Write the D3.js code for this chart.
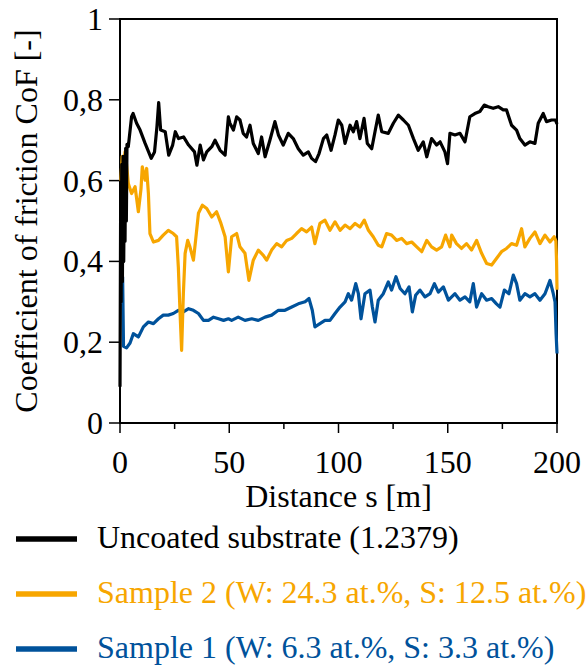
<!DOCTYPE html>
<html>
<head>
<meta charset="UTF-8">
<title>CoF vs distance</title>
<script src="https://cdn.jsdelivr.net/npm/d3@7"></script>
</head>
<body style="margin:0">
<div id="container"></div>
<script>
// distance [m], CoF [-]
const uncoated = [
  [0, 0.09], [0.3, 0.55], [0.5, 0.30], [0.8, 0.64], [1.1, 0.35], [1.4, 0.66], [1.7, 0.40],
  [2.0, 0.63], [2.3, 0.45], [2.6, 0.68], [2.9, 0.50], [3.2, 0.69], [3.8, 0.684],
  [5.3, 0.758], [6, 0.766], [7.6, 0.742], [9.2, 0.725], [11.5, 0.692], [14.3, 0.655],
  [15.8, 0.671], [16.9, 0.733], [17.7, 0.793], [18.6, 0.725], [20.7, 0.721], [22.3, 0.663],
  [24.1, 0.688], [25.3, 0.721], [26.8, 0.704], [29.1, 0.708], [31.4, 0.688], [34.1, 0.671],
  [35.2, 0.638], [36.7, 0.688], [38.2, 0.651], [39.7, 0.671], [42, 0.684], [43.5, 0.700],
  [45.8, 0.675], [48.1, 0.663], [49.6, 0.758], [50.3, 0.742], [51.9, 0.725], [53.4, 0.758],
  [54.9, 0.750], [56.4, 0.717], [57.9, 0.708], [59.5, 0.737], [61, 0.692], [63.3, 0.667],
  [64.8, 0.708], [66.4, 0.659], [68.6, 0.700], [70.9, 0.746], [72.5, 0.713], [74.7, 0.688],
  [77, 0.717], [79.3, 0.704], [81.6, 0.679], [83.9, 0.663], [86.2, 0.671], [87.7, 0.655],
  [89.5, 0.647], [91.1, 0.667], [93.1, 0.704], [94.6, 0.713], [96.6, 0.675], [98.4, 0.713],
  [99.9, 0.750], [101.5, 0.737], [103, 0.692], [105.3, 0.737], [106.8, 0.721], [108.3, 0.746],
  [109.8, 0.704], [111.7, 0.754], [113.2, 0.692], [115.2, 0.679], [116.7, 0.721], [118.2, 0.762],
  [119.8, 0.721], [122.8, 0.717], [125.1, 0.742], [127.4, 0.762], [129.7, 0.750], [132, 0.737],
  [134.3, 0.704], [136.5, 0.675], [138.8, 0.696], [140.4, 0.659], [142.6, 0.704], [144.9, 0.688],
  [146.5, 0.696], [148.7, 0.671], [149.9, 0.642], [151, 0.717], [153.3, 0.713], [155.6, 0.717],
  [157.9, 0.696], [160.1, 0.758], [162.4, 0.766], [164.7, 0.771], [166.7, 0.787], [168.5, 0.783],
  [170.8, 0.779], [173.1, 0.783], [175.4, 0.775], [176.9, 0.775], [179.2, 0.737], [181.5, 0.725],
  [183, 0.704], [185.3, 0.688], [187.6, 0.696], [189.9, 0.692], [191.4, 0.742], [193.7, 0.766],
  [195.2, 0.746], [197.5, 0.750], [199.3, 0.750], [200, 0.74]
];

const sample2 = [
  [0.4, 0.60], [1, 0.66], [1.5, 0.63], [2.3, 0.671], [3, 0.64], [3.8, 0.593], [5.3, 0.568],
  [6.9, 0.585], [8.4, 0.523], [9.6, 0.579], [10.2, 0.634], [11.5, 0.601], [12.2, 0.630],
  [13, 0.568], [13.7, 0.469], [15.3, 0.448], [17.6, 0.452], [19.8, 0.465], [22.1, 0.477],
  [24.4, 0.469], [25.9, 0.461], [26.7, 0.386], [27.5, 0.271], [28.2, 0.180], [29, 0.320],
  [29.8, 0.420], [31, 0.452], [32, 0.436], [33.6, 0.403], [34.6, 0.452], [35.9, 0.519],
  [37.7, 0.539], [39.7, 0.531], [42, 0.510], [44.2, 0.523], [46.2, 0.494], [48.1, 0.461],
  [49.6, 0.374], [51.1, 0.461], [53.4, 0.469], [54.9, 0.436], [57.2, 0.420], [59, 0.353],
  [61, 0.403], [63.3, 0.428], [65.6, 0.415], [67.1, 0.403], [69.4, 0.428], [71.7, 0.444],
  [74, 0.436], [76.3, 0.452], [78.6, 0.457], [80.8, 0.469], [83.1, 0.481], [85.4, 0.473],
  [87.7, 0.485], [89.2, 0.444], [91.5, 0.494], [93.8, 0.502], [96.1, 0.477], [98.4, 0.498],
  [100.7, 0.477], [103, 0.490], [105.3, 0.481], [107.6, 0.494], [109.8, 0.485], [111.8, 0.502],
  [113.7, 0.477], [115.9, 0.461], [118.2, 0.440], [119.8, 0.436], [122, 0.469], [124.3, 0.465],
  [126.6, 0.452], [128.9, 0.457], [131.2, 0.444], [133.5, 0.448], [135.8, 0.436], [138.1, 0.424],
  [140.4, 0.452], [142.6, 0.436], [144.9, 0.428], [147.2, 0.436], [149, 0.465], [151, 0.436],
  [151.8, 0.465], [154, 0.444], [156.3, 0.432], [158.6, 0.444], [160.9, 0.428], [163.2, 0.452],
  [165.5, 0.420], [167.8, 0.395], [170.1, 0.391], [172.3, 0.407], [174.6, 0.424], [176.9, 0.432],
  [179.2, 0.444], [181.5, 0.440], [183.8, 0.481], [185.3, 0.436], [187.6, 0.457], [189.9, 0.473],
  [192.2, 0.444], [194.5, 0.465], [196.8, 0.448], [198.7, 0.461], [199.5, 0.45], [199.8, 0.40],
  [200, 0.33]
];

const sample1 = [
  [1.2, 0.362], [1.6, 0.190], [3, 0.186], [4.6, 0.198], [6.1, 0.221], [8.4, 0.213],
  [10.7, 0.238], [13, 0.250], [15.3, 0.246], [17.6, 0.258], [19.8, 0.267], [22.1, 0.267],
  [24.4, 0.271], [26.7, 0.279], [29, 0.275], [31.4, 0.283], [33.6, 0.279], [35.9, 0.271],
  [38.2, 0.254], [40.5, 0.254], [42.8, 0.262], [45.1, 0.258], [47.4, 0.254], [49.6, 0.258],
  [51.1, 0.254], [54.1, 0.262], [57.2, 0.254], [60.3, 0.258], [63.3, 0.254], [66.4, 0.262],
  [69.4, 0.267], [72.5, 0.279], [75.5, 0.279], [78.6, 0.287], [81.6, 0.295], [84.7, 0.300],
  [86.5, 0.308], [88, 0.279], [89.2, 0.238], [91.5, 0.246], [93.8, 0.254], [96.1, 0.254],
  [98.4, 0.271], [100.7, 0.287], [103, 0.300], [104.5, 0.320], [106, 0.304], [107.9, 0.345],
  [109.1, 0.320], [110.3, 0.258], [112.1, 0.320], [114.4, 0.329], [115.5, 0.287], [116.7, 0.250],
  [118.2, 0.304], [120.5, 0.320], [122.8, 0.349], [124.3, 0.329], [126.3, 0.362], [128.2, 0.333],
  [130.4, 0.320], [132.3, 0.337], [133.8, 0.275], [135.3, 0.316], [137.3, 0.329], [139.6, 0.312],
  [141.9, 0.320], [143.9, 0.345], [145.7, 0.324], [148, 0.337], [150.3, 0.304], [151, 0.308],
  [153.3, 0.320], [155.6, 0.304], [157.9, 0.312], [160.1, 0.300], [161.7, 0.345], [163.2, 0.287],
  [165.5, 0.320], [167.8, 0.304], [170.1, 0.308], [172.3, 0.295], [173.9, 0.287], [175.9, 0.329],
  [178, 0.320], [180, 0.366], [181.5, 0.345], [183, 0.304], [185.3, 0.320], [187.6, 0.312],
  [189.9, 0.320], [192.2, 0.304], [194.5, 0.320], [196.8, 0.353], [198.3, 0.320], [199.1, 0.30],
  [199.6, 0.22], [200, 0.172]
];

const xTicks = [0, 25, 50, 75, 100, 125, 150, 175, 200];
const xTickLabels = [0, 50, 100, 150, 200];
const yTicks = [0, 0.2, 0.4, 0.6, 0.8, 1];
const yTickLabels = ["0", "0,2", "0,4", "0,6", "0,8", "1"];
const legendLabels = [
  "Uncoated substrate (1.2379)",
  "Sample 2 (W: 24.3 at.%, S: 12.5 at.%)",
  "Sample 1 (W: 6.3 at.%, S: 3.3 at.%)"
];

const colors = { uncoated: "#000000", sample2: "#f7a600", sample1: "#00529b" };

const width = 587, height = 667;
const margin = { left: 120, right: 30, top: 19, bottom: 244 };
const font = "Liberation Serif";

const svg = d3.select("#container").append("svg")
  .attr("width", width)
  .attr("height", height)
  .attr("font-family", font);

const x = d3.scaleLinear().domain([0, 200]).range([margin.left, width - margin.right]);
const y = d3.scaleLinear().domain([0, 1]).range([height - margin.bottom, margin.top]);

// frame
svg.append("rect")
  .attr("x", x(0)).attr("y", y(1))
  .attr("width", x(200) - x(0)).attr("height", y(0) - y(1))
  .attr("fill", "none").attr("stroke", "#000").attr("stroke-width", 2);

// x axis ticks
svg.append("g").selectAll("line")
  .data(xTicks).enter().append("line")
  .attr("x1", d => x(d)).attr("x2", d => x(d))
  .attr("y1", y(0)).attr("y2", d => y(0) + (d % 50 === 0 ? 10 : 6))
  .attr("stroke", "#000").attr("stroke-width", 1.5);

svg.append("g").selectAll("text")
  .data(xTickLabels).enter().append("text")
  .attr("x", d => x(d)).attr("y", 473)
  .attr("text-anchor", "middle")
  .attr("font-family", font)
  .attr("font-size", 32)
  .text(d => d);

// y axis ticks
svg.append("g").selectAll("line")
  .data(yTicks).enter().append("line")
  .attr("x1", x(0) - 11).attr("x2", x(0))
  .attr("y1", d => y(d)).attr("y2", d => y(d))
  .attr("stroke", "#000").attr("stroke-width", 1.5);

svg.append("g").selectAll("text")
  .data(yTicks).enter().append("text")
  .attr("x", x(0) - 17).attr("y", d => y(d) + 11)
  .attr("text-anchor", "end")
  .attr("font-family", font)
  .attr("font-size", 32)
  .text((d, i) => yTickLabels[i]);

// axis titles
svg.append("text")
  .attr("x", (x(0) + x(200)) / 2).attr("y", 507)
  .attr("text-anchor", "middle")
  .attr("font-family", font).attr("font-size", 32)
  .text("Distance s [m]");

svg.append("text")
  .attr("transform", "translate(37," + ((y(0) + y(1)) / 2) + ") rotate(-90)")
  .attr("text-anchor", "middle")
  .attr("font-family", font).attr("font-size", 32)
  .text("Coefficient of friction CoF [-]");

// curves
const line = d3.line().x(d => x(d[0])).y(d => y(d[1]));

[["sample1", sample1], ["sample2", sample2], ["uncoated", uncoated]].forEach(([key, data]) => {
  svg.append("path")
    .attr("d", line(data))
    .attr("fill", "none")
    .attr("stroke", colors[key])
    .attr("stroke-width", 3.2)
    .attr("stroke-linejoin", "round");
});

// legend
const legendKeys = ["uncoated", "sample2", "sample1"];
const legend = svg.append("g").selectAll("g")
  .data(legendKeys).enter().append("g")
  .attr("transform", (d, i) => "translate(0," + (539 + i * 55) + ")");

legend.append("line")
  .attr("x1", 16).attr("x2", 77)
  .attr("stroke", d => colors[d]).attr("stroke-width", 5.5);

legend.append("text")
  .attr("x", 97).attr("y", 9)
  .attr("font-family", font)
  .attr("font-size", 32)
  .attr("fill", d => colors[d])
  .text((d, i) => legendLabels[i]);
</script>
</body>
</html>
